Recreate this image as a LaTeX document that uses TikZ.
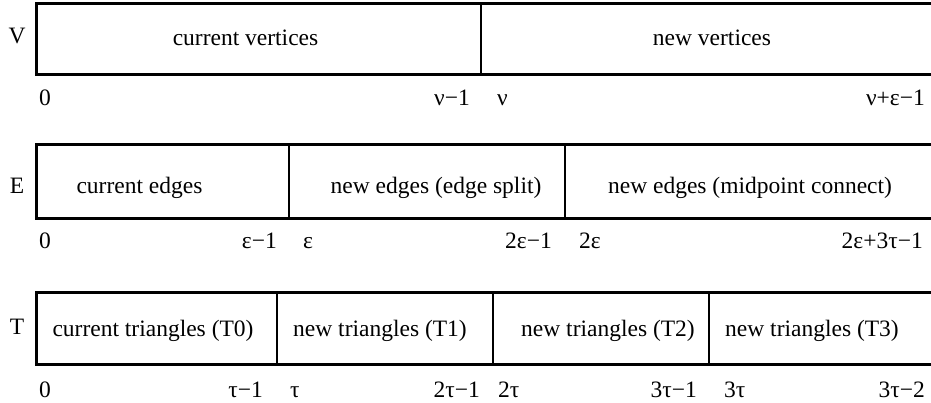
\documentclass[tikz,border=0pt]{standalone}
\usepackage{fontspec}
\setmainfont{Liberation Serif}
\begin{document}
\begin{tikzpicture}[x=1pt,y=-1pt,
  bar/.style={line width=3pt},
  sep/.style={line width=2pt},
  txt/.style={anchor=base,inner sep=0pt},
  lo/.style={anchor=base west,inner sep=0pt},
  hi/.style={anchor=base east,inner sep=0pt},
  font=\fontsize{23.5}{27}\selectfont]
\useasboundingbox (0,0) rectangle (931,402);

% vertex array
\node[txt] (vlab) at (17,43) {V};
\draw[bar] (945,3) -- (36,3) -- (36,74) -- (945,74);
\draw[sep] (481,3) -- (481,74);
\node[txt] (vcur) at (245.5,45) {current vertices};
\node[txt] (vnew) at (712,45) {new vertices};
\node[lo] (v0) at (39,105) {0};
\node[hi] (v1) at (470,105) {ν−1};
\node[lo] (v2) at (497,105) {ν};
\node[hi] (v3) at (925,105) {ν+ε−1};

% edge array
\node[txt] (elab) at (17,193) {E};
\draw[bar] (945,144) -- (36,144) -- (36,218) -- (945,218);
\draw[sep] (289,144) -- (289,218);
\draw[sep] (565,144) -- (565,218);
\node[txt] (ecur) at (139.5,193) {current edges};
\node[txt] (esplit) at (436,193) {new edges (edge split)};
\node[txt] (emid) at (750,193) {new edges (midpoint connect)};
\node[lo] (e0) at (39,248) {0};
\node[hi] (e1) at (277,248) {ε−1};
\node[lo] (e2) at (303,248) {ε};
\node[hi] (e3) at (552,248) {2ε−1};
\node[lo] (e4) at (579,248) {2ε};
\node[hi] (e5) at (923,248) {2ε+3τ−1};

% triangle array
\node[txt] (tlab) at (17,334) {T};
\draw[bar] (945,292) -- (36,292) -- (36,364) -- (945,364);
\draw[sep] (277,292) -- (277,364);
\draw[sep] (493,292) -- (493,364);
\draw[sep] (709,292) -- (709,364);
\node[txt] (t0) at (153,336) {current triangles (T0)};
\node[txt] (t1) at (380,336) {new triangles (T1)};
\node[txt] (t2) at (608,336) {new triangles (T2)};
\node[txt] (t3) at (812,336) {new triangles (T3)};
\node[lo] (i0) at (39,397) {0};
\node[hi] (i1) at (263,397) {τ−1};
\node[lo] (i2) at (290,397) {τ};
\node[hi] (i3) at (480,397) {2τ−1};
\node[lo] (i4) at (498,397) {2τ};
\node[hi] (i5) at (697,397) {3τ−1};
\node[lo] (i6) at (724,397) {3τ};
\node[hi] (i7) at (925,397) {3τ−2};
\end{tikzpicture}
\end{document}
